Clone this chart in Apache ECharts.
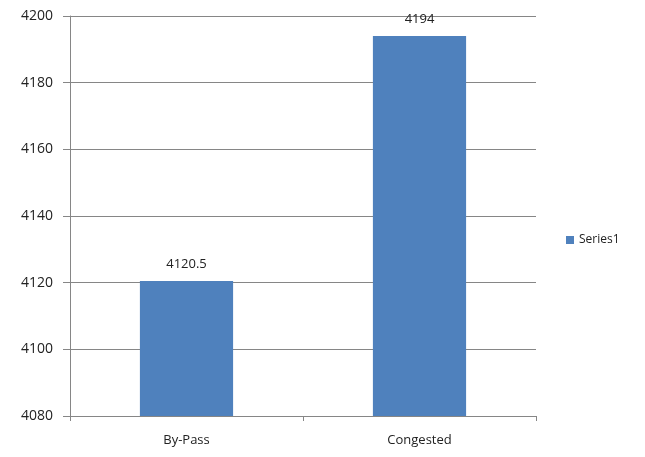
<!DOCTYPE html>
<html>
<head>
<meta charset="utf-8">
<script src="https://cdn.jsdelivr.net/npm/echarts@6/dist/echarts.min.js"></script>
<style>html,body{margin:0;padding:0;background:#fff}#c{width:645px;height:457px}</style>
</head>
<body>
<div id="c"></div>
<script>
const categories = ['By-Pass', 'Congested'];
const series1 = [4120.5, 4194];
const seriesName = 'Series1';

const chart = echarts.init(document.getElementById('c'));
const font = 'Open Sans, Noto Sans, sans-serif';
chart.setOption({
  animation: false,
  grid: { left: 70, right: 109, top: 16, bottom: 41 },
  legend: {
    data: [seriesName], orient: 'vertical', left: 561, top: 229,
    itemWidth: 8, itemHeight: 8, itemGap: 4, icon: 'rect',
    textStyle: { fontFamily: font, fontSize: 12, color: '#222' }
  },
  xAxis: {
    type: 'category', data: categories,
    axisLine: { lineStyle: { color: '#868686', width: 1 } },
    axisTick: { show: true, length: 5, alignWithLabel: false, lineStyle: { color: '#868686' } },
    axisLabel: { fontFamily: font, fontSize: 13, color: '#222', margin: 18 },
    splitLine: { show: false }
  },
  yAxis: {
    type: 'value', min: 4080, max: 4200, interval: 20,
    axisLine: { show: true, lineStyle: { color: '#868686', width: 1 } },
    axisTick: { show: true, length: 7, lineStyle: { color: '#868686' } },
    axisLabel: { fontFamily: font, fontSize: 14, color: '#222', margin: 17, formatter: v => String(v) },
    splitLine: { lineStyle: { color: '#868686', width: 1 } }
  },
  series: [{
    name: seriesName, type: 'bar', data: series1, barWidth: '40%',
    itemStyle: { color: '#4f81bd' },
    label: { show: true, position: 'top', distance: 10, fontFamily: font, fontSize: 13, color: '#222' }
  }]
});
</script>
</body>
</html>
